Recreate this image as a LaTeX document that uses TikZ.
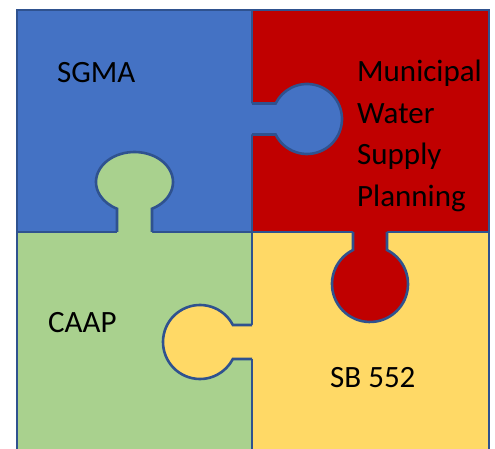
\documentclass[tikz,border=0pt]{standalone}
\usepackage{fontspec}
\setmainfont{Carlito}
\usetikzlibrary{positioning}
\definecolor{sgmablue}{HTML}{4472C4}
\definecolor{mwspred}{HTML}{C00000}
\definecolor{caapgreen}{HTML}{A9D18E}
\definecolor{sbyellow}{HTML}{FFD966}
\definecolor{edgeblue}{HTML}{2F528F}
\tikzset{
	x=1pt, y=1pt,
	edge/.style={draw=edgeblue, line width=2.6pt}, % piece outlines
	piecetext/.style={font=\fontsize{31}{41.7}\selectfont, anchor=base west, inner sep=0pt, align=left},
}

\begin{document}
\begin{tikzpicture}
	\useasboundingbox (0,0) rectangle (495,449);
	\begin{scope}
	\clip (0,0) rectangle (495,449);
	% the four pieces
	\fill[sgmablue]  (17,217)  rectangle (252,439);
	\fill[mwspred]   (252,217) rectangle (489,439);
	\fill[caapgreen] (17,-10)  rectangle (252,217);
	\fill[sbyellow]  (252,-10) rectangle (489,217);
	\draw[edge] (17,-10) |- (489,439) -- (489,-10);
	\draw[edge] (252,439) -- (252,-10);
	\draw[edge] (17,217) -- (489,217);

	% tabs
	\fill[sgmablue] (249,314.5) -- (275.62,314.5) arc[start angle=-153.71, end angle=153.71, radius=35] -- (249,345.5) -- cycle;
	\draw[edge] (252,314.5) -- (275.62,314.5) arc[start angle=-153.71, end angle=153.71, radius=35] -- (252,345.5);

	\fill[mwspred] (353,220) -- (353,199) arc[start angle=116.57, end angle=423.43, radius=38] -- (387,220) -- cycle;
	\draw[edge] (353,217) -- (353,199) arc[start angle=116.57, end angle=423.43, radius=38] -- (387,217);

	\fill[caapgreen] (152,214) -- (152,240.27) arc[start angle=-62.96, end angle=242.96, x radius=38.5, y radius=30] -- (117,214) -- cycle;
	\draw[edge] (152,217) -- (152,240.27) arc[start angle=-62.96, end angle=242.96, x radius=38.5, y radius=30] -- (117,217);

	\fill[sbyellow] (255,124) -- (232.86,124) arc[start angle=27.36, end angle=332.64, radius=37] -- (255,90) -- cycle;
	\draw[edge] (252,124) -- (232.86,124) arc[start angle=27.36, end angle=332.64, radius=37] -- (252,90);
	\end{scope}

	% texts
	\node[piecetext] (sgma) at (57,366) {SGMA};
	\node[piecetext] (mwsp) at (357,242.3) {Municipal\\Water\\Supply\\Planning};
	\node[piecetext] (caap) at (48,116) {CAAP};
	\node[piecetext] (sb) at (330,61) {SB 552};
\end{tikzpicture}
\end{document}
